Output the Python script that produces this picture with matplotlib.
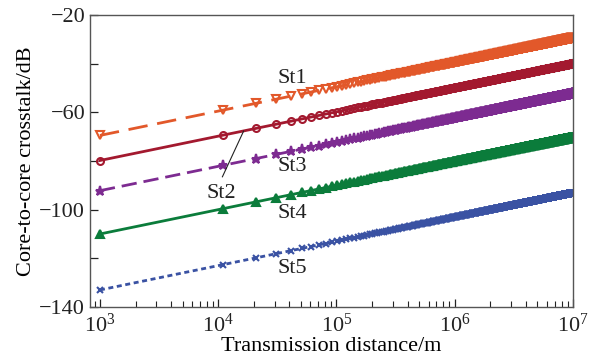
import numpy as np
import matplotlib
matplotlib.use("Agg")
import matplotlib.pyplot as plt
from matplotlib.ticker import LogLocator, FixedLocator, NullFormatter

plt.rcParams['font.family'] = ['Liberation Serif', 'DejaVu Serif']
plt.rcParams['mathtext.fontset'] = 'stix'

# crosstalk of each strategy after 1 km, grows 10 dB per decade of length
names = ['St1', 'St2', 'St3', 'St4', 'St5']
xt_1km = [-69.5, -79.8, -92.2, -110.0, -133.0]
colors = ['#e2582a', '#a3192f', '#7d2b91', '#0b7c3b', '#3a52a3']
markers = ['v', 'o', '*', '^', 'x']
sizes = [5.5, 5.0, 6.5, 5.5, 5.0]
styles = [(0, (7, 3.5)), '-', (0, (5.5, 2.5)), '-', (0, (1.8, 1.3))]

dist = np.arange(1e3, 1e7 + 1, 1e4)  # m

fig = plt.figure(figsize=(5.98, 3.61), dpi=100)
ax = fig.add_axes([0.1505, 0.1496, 0.8077, 0.8089])

for n, x0, c, m, ms, ls in zip(names, xt_1km, colors, markers, sizes, styles):
    xt = x0 + 10 * np.log10(dist / 1e3)
    mfc = 'none' if m in ('v', 'o') else c
    ax.plot(dist, xt, color=c, ls=ls, lw=2.0, marker=m, ms=ms,
            mfc=mfc, mec=c, mew=1.5)

ax.set_xscale('log')
ax.set_xlim(824, 1e7)
ax.set_ylim(-140, -20)

ax.xaxis.set_major_locator(LogLocator(base=10, numticks=10))
ax.xaxis.set_minor_locator(LogLocator(base=10, subs=np.arange(2, 10), numticks=20))
ax.xaxis.set_minor_formatter(NullFormatter())
ax.yaxis.set_major_locator(FixedLocator([-140, -100, -60, -20]))
ax.yaxis.set_minor_locator(FixedLocator([-120, -80, -40]))

ax.tick_params(which='both', direction='in', top=False, right=False,
               labelsize=16, colors='#222222')
ax.tick_params(which='major', length=6, width=0.9)
ax.tick_params(axis='x', which='minor', length=4, width=0.8)
ax.tick_params(axis='y', which='minor', length=6, width=0.9)
ax.tick_params(axis='x', pad=5)
for sp in ax.spines.values():
    sp.set_color('#555555')
    sp.set_linewidth(1.0)

ax.set_xlabel('Transmission distance/m', fontsize=16, labelpad=0)
ax.set_ylabel('Core-to-core crosstalk/dB', fontsize=16, labelpad=2)

# curve labels
lab_x = [42500, 10700, 42500, 42500, 42500]
lab_y = [-46.0, -93.2, -82.3, -101.4, -124.0]
for n, lx, ly in zip(names, lab_x, lab_y):
    ax.text(lx, ly, n, fontsize=16, ha='center', va='center', color='#222222')
ax.plot([16400, 10850], [-67.7, -86.5], color='#222222', lw=0.8)

fig.savefig('out.png', dpi=100)
